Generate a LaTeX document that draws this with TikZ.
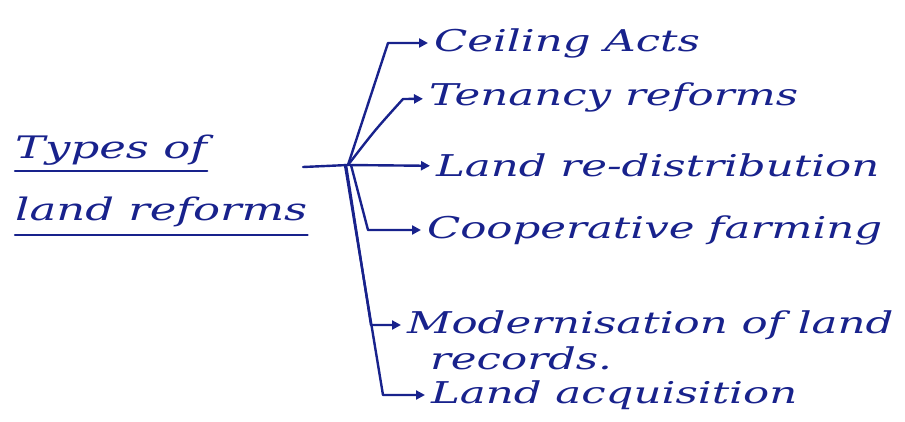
\documentclass[tikz,border=0pt]{standalone}
\usepackage{fontspec}
\setmainfont{DejaVu Serif}[FakeStretch=1.45]
\usepackage{tikz}
\usetikzlibrary{arrows.meta}
\definecolor{Ink}{RGB}{24,34,140}

\begin{document}
\begin{tikzpicture}[x=1pt,y=-1pt]

    \useasboundingbox (0,0) rectangle (905,421);

    % Handwritten text
    \tikzset{hT/.style={anchor=base west, inner sep=0pt, text=Ink, font=\fontsize{30}{36}\selectfont\itshape}}
    \tikzset{bT/.style={hT, anchor=west, text height=21pt, text depth=4pt, outer sep=6pt}}
    \tikzset{tT/.style={hT, font=\fontsize{31}{36}\selectfont\itshape}}

    % Ink lines
    \tikzset{pL/.style={draw=Ink, line width=2.4pt, line cap=round, line join=round}}
    \tikzset{aL/.style={pL, -{Triangle[length=9pt,width=9pt]}}}

    % Title
    \node (t1) [tT] at (15,158) {Types of};
    \node (t2) [tT] at (15,220) {land reforms};

    % Branch texts
    \node (ca) [bT] at (428,43) {Ceiling Acts};
    \node (tr) [bT] at (423,97) {Tenancy reforms};
    \node (rd) [bT] at (430,168) {Land re-distribution};
    \node (cf) [bT] at (421,230) {Cooperative farming};
    \node (ml) [bT] at (401,325) {Modernisation of land};
    	\node (mr) [hT] at ([shift={(29,36)}]ml.base west) {records.};
    \node (la) [bT] at (425,395) {Land acquisition};

    % Joints
    \coordinate (in) at (303,167);
    \coordinate (hub) at (348,165);
    \coordinate (k1) at (388,43);
    \coordinate (k2) at (403,99);
    \coordinate (k4) at (368,230);
    \coordinate (k5) at (371,325);
    \coordinate (k6) at (383,395);

    % Underlines
    \draw[pL] ([yshift=-13pt]t1.base west) -- ([yshift=-13pt]t1.base east);
    \draw[pL] ([yshift=-15pt]t2.base west) -- ([yshift=-15pt]t2.base east);

    % Branches
    \draw[pL] (in) -- (hub);
    \draw[aL] (hub) -- (k1) -- (ca);
    \draw[aL] (hub) .. controls (375,130) .. (k2) -- (tr);
    \draw[aL] (hub) -- (rd);
    \draw[aL] ([xshift=3pt]hub) -- (k4) -- (cf);
    \draw[aL] ([xshift=-2pt]hub) -- (k5) -- (ml);
    \draw[aL] ([xshift=-3pt]hub) -- (k6) -- (la);

\end{tikzpicture}
\end{document}
